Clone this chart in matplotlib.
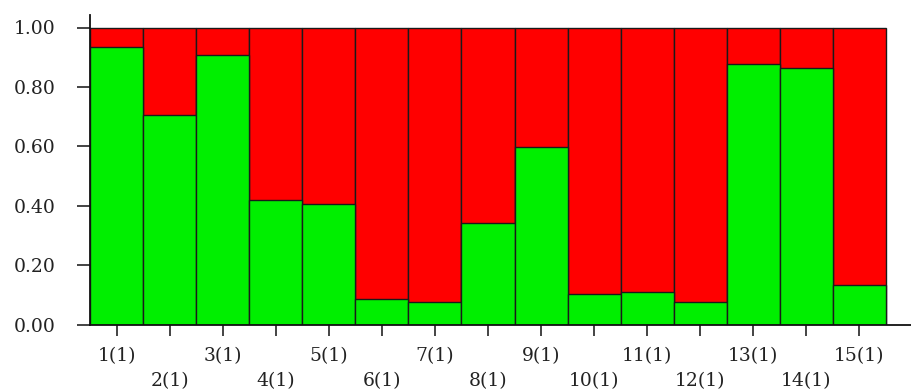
import matplotlib
matplotlib.use("Agg")
import matplotlib.pyplot as plt
import numpy as np

categories = ["1(1)", "2(1)", "3(1)", "4(1)", "5(1)", "6(1)", "7(1)", "8(1)",
              "9(1)", "10(1)", "11(1)", "12(1)", "13(1)", "14(1)", "15(1)"]
green_vals = [0.933, 0.705, 0.907, 0.419, 0.405, 0.085, 0.076, 0.341,
              0.598, 0.104, 0.111, 0.075, 0.877, 0.863, 0.133]
red_vals = [1 - g for g in green_vals]
ytick_vals = [0.0, 0.2, 0.4, 0.6, 0.8, 1.0]
ytick_labels = ["0.00", "0.20", "0.40", "0.60", "0.80", "1.00"]

W, H = 911, 391
fig = plt.figure(figsize=(W / 100, H / 100), dpi=100)
ax_left, ax_right = 90, 911
ax_bottom, ax_top = 324.5, 15
ax = fig.add_axes([ax_left / W, (H - ax_bottom) / H,
                   (ax_right - ax_left) / W, (ax_bottom - ax_top) / H])

x = np.arange(1, len(categories) + 1)
green = "#00ef00"
red = "#ff0000"
totals = [round(g + r, 6) for g, r in zip(green_vals, red_vals)]
# red segment drawn as the full stack, green segment on top of it
ax.bar(x, totals, width=1.0, color=red, edgecolor="#1a1a1a", linewidth=1.0)
ax.bar(x, green_vals, width=1.0, color=green, edgecolor="#1a1a1a", linewidth=1.0)

px_per_unit = (886 - 90.5) / 15
ax.set_xlim(0.5, 0.5 + (ax_right - 90.5) / px_per_unit)
px_per_y = 297
ax.set_ylim(0, (ax_bottom - ax_top) / px_per_y)

for s in ["top", "right"]:
    ax.spines[s].set_visible(False)
for s in ["left", "bottom"]:
    ax.spines[s].set_linewidth(1.3)
    ax.spines[s].set_color("#111111")

font = dict(family="DejaVu Serif", size=13.5)
ax.set_yticks(ytick_vals)
ax.set_yticklabels(ytick_labels, **font)
ax.tick_params(axis="y", direction="out", length=9.5, width=1.1, pad=15, colors="#111111")
ax.tick_params(axis="y", labelcolor="#222222")

ax.set_xticks(x)
labels = []
for i, c in enumerate(categories):
    labels.append(c if i % 2 == 0 else "\n" + c)
ax.set_xticklabels(labels, linespacing=1.5, **font)
ax.tick_params(axis="x", direction="out", length=8, width=1.1, pad=8, colors="#111111")
ax.tick_params(axis="x", labelcolor="#222222")

fig.savefig("out.png", dpi=100, facecolor="white")
